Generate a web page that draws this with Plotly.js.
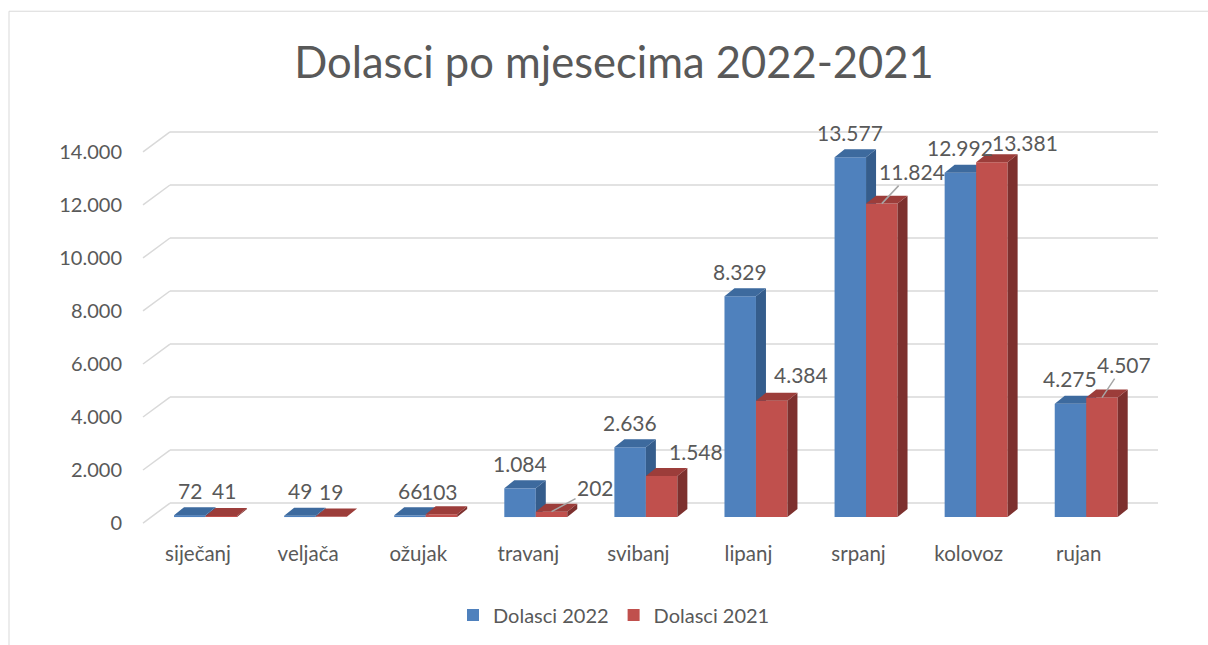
<!DOCTYPE html>
<html>
<head>
<meta charset="utf-8">
<script src="https://cdn.plot.ly/plotly-3.0.1.min.js"></script>
<style>body{margin:0;background:#fff;} #chart{width:1208px;height:645px;}</style>
</head>
<body>
<div id="chart"></div>
<script>
// data
var months = ["siječanj", "veljača", "ožujak", "travanj", "svibanj", "lipanj", "srpanj", "kolovoz", "rujan"];
var dolasci2022 = [72, 49, 66, 1084, 2636, 8329, 13577, 12992, 4275];
var dolasci2021 = [41, 19, 103, 202, 1548, 4384, 11824, 13381, 4507];
var yTicks = [0, 2000, 4000, 6000, 8000, 10000, 12000, 14000];

// where the 2021 labels sit (pixels from the bar top) and which get a leader line
var redLabelDx = [3, 0, -2, 44, 34, 29, 30, 33, 22];
var redLabelDy = [25, 25, 23, 24, 25, 26, 32, 20, 33];
var redLeader = [false, false, false, true, false, false, true, false, true];

// plot geometry
var W = 1208, H = 645;
var ml = 143, mr = 50, mt = 110, mb = 105;
var plotW = W - ml - mr, plotH = H - mt - mb;
var basePx = 518;              // pixel row of value 0 on the bars
var pxPerUnit = 26.57 / 1000;
var yRange = [-(H - mb - basePx) / pxPerUnit, (basePx - mt) / pxPerUnit];
var xRange = [-0.5, 8.72];
var pxPerCat = plotW / (xRange[1] - xRange[0]);

var barW = 0.286, shift = 0.068;
var depthX = 10 / pxPerCat, depthY = 8 / pxPerUnit;

var blue = "#4f81bd", blueSide = "#355d8c", blueTop = "#3d6a9e";
var red = "#c0504d", redSide = "#7d302e", redTop = "#9c3d3a";
var textCol = "#595959";

function fmt(n) { return String(n).replace(/\B(?=(\d{3})+(?!\d))/g, "."); }
function px2paperX(px) { return (px - ml) / plotW; }
function px2paperY(py) { return (H - mb - py) / plotH; }

// side and top faces of the 3d columns
function faces(vals, left) {
  var side = {x: [], y: []}, top = {x: [], y: []};
  vals.forEach(function (v, i) {
    var l = i + left, r = l + barW;
    side.x.push(r, r + depthX, r + depthX, r, r, null);
    side.y.push(0, depthY, v + depthY, v, 0, null);
    top.x.push(l, r, r + depthX, l + depthX, l, null);
    top.y.push(v, v, v + depthY, v + depthY, v, null);
  });
  return {side: side, top: top};
}

var idx = months.map(function (m, i) { return i; });
var bF = faces(dolasci2022, shift - barW);
var rF = faces(dolasci2021, shift);

function poly(f, col, xa, ya) {
  return {x: f.x, y: f.y, type: "scatter", mode: "lines", fill: "toself",
    fillcolor: col, line: {width: 0}, hoverinfo: "skip", showlegend: false,
    xaxis: xa, yaxis: ya};
}

var data = [
  {x: idx, y: dolasci2022, type: "bar", name: "Dolasci 2022", width: barW, offset: shift - barW,
    marker: {color: blue}, xaxis: "x", yaxis: "y"},
  poly(bF.side, blueSide, "x", "y"),
  poly(bF.top, blueTop, "x", "y"),
  {x: idx, y: dolasci2021, type: "bar", name: "Dolasci 2021", width: barW, offset: shift,
    marker: {color: red}, xaxis: "x2", yaxis: "y2"},
  poly(rF.side, redSide, "x2", "y2"),
  poly(rF.top, redTop, "x2", "y2")
];

// back wall gridlines with the slanted floor part
var shapes = [];
var backUp = 14 / pxPerUnit, frontDown = 6 / pxPerUnit;
yTicks.forEach(function (t) {
  shapes.push({type: "line", layer: "below", xref: "paper", yref: "y",
    x0: px2paperX(170), x1: 1, y0: t + backUp, y1: t + backUp,
    line: {color: "#d9d9d9", width: 1.5}});
  shapes.push({type: "line", layer: "below", xref: "paper", yref: "y",
    x0: 0, x1: px2paperX(170), y0: t - frontDown, y1: t + backUp,
    line: {color: "#d9d9d9", width: 1.5}});
});
// chart frame
shapes.push({type: "rect", layer: "below", xref: "paper", yref: "paper",
  x0: px2paperX(9), x1: px2paperX(1240), y0: px2paperY(11), y1: px2paperY(700),
  line: {color: "#d9d9d9", width: 1}});

var annotations = [];
dolasci2022.forEach(function (v, i) {
  annotations.push({x: i + shift - barW / 2, y: v, xref: "x", yref: "y", text: fmt(v),
    showarrow: false, yanchor: "middle", yshift: 25, font: {size: 21, color: textCol}});
});
dolasci2021.forEach(function (v, i) {
  var a = {x: i + shift + barW / 2, y: v, xref: "x", yref: "y", text: fmt(v),
    font: {size: 21, color: textCol}};
  if (redLeader[i]) {
    a.showarrow = true; a.arrowhead = 0; a.arrowcolor = "#a6a6a6"; a.arrowwidth = 1.5;
    a.ax = redLabelDx[i]; a.ay = -redLabelDy[i]; a.standoff = 0;
  } else {
    a.showarrow = false; a.yanchor = "middle"; a.xshift = redLabelDx[i]; a.yshift = redLabelDy[i];
  }
  annotations.push(a);
});

var layout = {
  width: W, height: H,
  margin: {l: ml, r: mr, t: mt, b: mb},
  paper_bgcolor: "#fff", plot_bgcolor: "rgba(0,0,0,0)",
  font: {family: "Lato, 'Open Sans', sans-serif", color: textCol, size: 20},
  separators: ",.",
  title: {text: "Dolasci po mjesecima 2022-2021", x: 614 / W, xref: "container", xanchor: "center",
    y: 1 - 63 / H, yref: "container", yanchor: "middle", font: {size: 43.5, color: textCol}},
  barmode: "overlay",
  showlegend: true,
  legend: {orientation: "h", x: px2paperX(614), xanchor: "center", y: px2paperY(615), yanchor: "middle",
    font: {size: 20, color: textCol}},
  xaxis: {range: xRange, tickvals: idx, ticktext: months, showgrid: false, zeroline: false,
    showline: false, ticks: "", fixedrange: true, tickfont: {size: 20.5, color: textCol}},
  yaxis: {range: yRange, tickvals: yTicks, tickformat: ",d", showgrid: false, zeroline: false,
    showline: false, ticks: "", ticklabelstandoff: 20, ticklabelshift: 6,
    tickfont: {size: 20, color: textCol}},
  xaxis2: {range: xRange, overlaying: "x", visible: false},
  yaxis2: {range: yRange, overlaying: "y", visible: false},
  shapes: shapes,
  annotations: annotations
};

Plotly.newPlot("chart", data, layout, {displayModeBar: false, staticPlot: true});
</script>
</body>
</html>
